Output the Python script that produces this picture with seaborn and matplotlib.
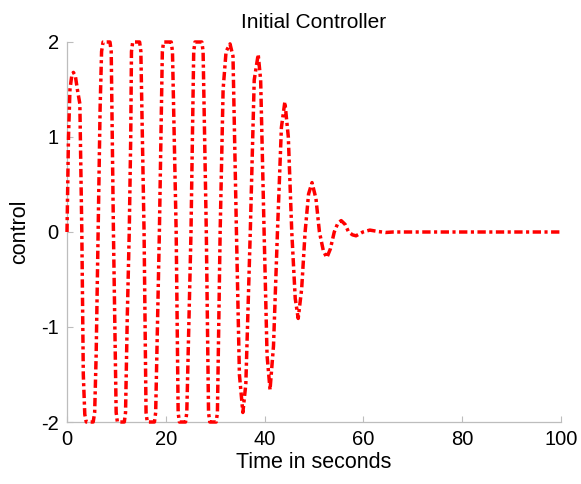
import matplotlib
matplotlib.use("Agg")
import matplotlib.pyplot as plt
import seaborn as sns
import pandas as pd

# Time (s) and control value
time_s = [0, 0.3, 0.6, 1.0, 1.3, 1.7, 2.1, 2.6, 3.0, 3.3, 3.6, 3.9,
          5.3, 5.6, 5.9, 6.3, 6.7, 7.0, 7.3,
          8.7, 8.95, 9.4, 9.95, 10.2,
          11.6, 11.85, 12.2, 12.6, 12.9, 13.05, 13.3,
          14.7, 14.95, 15.6, 16.0, 16.25,
          17.7, 17.95, 18.7, 19.3, 19.55,
          21.1, 21.35, 22.1, 22.5, 22.75,
          24.0, 24.25, 25.1, 25.65, 25.9,
          27.3, 27.55, 28.2, 28.65, 28.9,
          30.2, 30.45, 31.0, 31.6, 32.2, 33.0, 33.6, 34.3, 34.9,
          35.6, 36.2, 37.1, 37.9, 38.7, 39.2, 39.9, 40.5, 41.1, 41.8,
          42.6, 43.4, 44.1, 44.8, 45.5, 46.2, 46.8, 47.5, 48.2, 48.9,
          49.6, 50.4, 51.1, 51.9, 52.6, 53.3, 54.1, 54.8, 55.5, 56.3,
          57.0, 57.8, 58.5, 59.2, 59.9, 61.3, 63.0, 64.5, 66.0, 100.0]
control = [0, 1.0, 1.5, 1.66, 1.68, 1.64, 1.5, 1.35, 0.0, -1.5, -1.92, -2.0,
           -2.0, -1.9, -1.3, 0.0, 1.3, 1.9, 2.0,
           2.0, 1.9, 0.0, -1.9, -2.0,
           -2.0, -1.9, -0.9, 0.0, 1.0, 1.9, 2.0,
           2.0, 1.9, 0.0, -1.9, -2.0,
           -2.0, -1.9, 0.0, 1.9, 2.0,
           2.0, 1.9, 0.0, -1.9, -2.0,
           -2.0, -1.9, 0.0, 1.9, 2.0,
           2.0, 1.9, 0.0, -1.9, -2.0,
           -2.0, -1.9, 0.0, 1.5, 1.9, 1.98, 1.85, 0.0, -1.5,
           -1.9, -1.6, 0.0, 1.6, 1.87, 1.6, 0.0, -1.3, -1.66, -1.2,
           0.0, 1.1, 1.37, 1.0, 0.0, -0.7, -0.91, -0.6, 0.0, 0.4,
           0.52, 0.35, 0.0, -0.2, -0.27, -0.18, 0.0, 0.09, 0.12, 0.08,
           0.0, -0.03, -0.04, -0.02, 0.0, 0.02, 0.005, -0.005, 0.0, 0.0]

x_ticks = [0, 20, 40, 60, 80, 100]
y_ticks = [-2, -1, 0, 1, 2]

df = pd.DataFrame({"t": time_s, "u": control})

sns.set_style("ticks")
plt.rcParams["font.family"] = ["Liberation Sans", "DejaVu Sans"]
plt.rcParams["text.color"] = "black"
plt.rcParams["axes.labelcolor"] = "black"

fig = plt.figure(figsize=(5.81, 4.84), dpi=100)
ax = fig.add_axes([67 / 581, 1 - 422 / 484, (561 - 67) / 581, (422 - 42) / 484])

sns.lineplot(data=df, x="t", y="u", ax=ax, color="#ff0000", linewidth=2.5,
             sort=False, estimator=None)
line = ax.lines[0]
line.set_linestyle((0, (2.4, 1.0, 0.9, 1.0)))
line.set_clip_on(False)

ax.set_xlim(0, 100)
ax.set_ylim(-2, 2)
ax.set_xticks(x_ticks)
ax.set_yticks(y_ticks)
ax.set_xticklabels([str(v) for v in x_ticks])
ax.set_yticklabels([str(v) for v in y_ticks])

sns.despine(ax=ax)
for side in ("left", "bottom"):
    ax.spines[side].set_color("#bdbdbd")
    ax.spines[side].set_linewidth(0.9)
    ax.spines[side].set_zorder(0)
ax.tick_params(direction="in", length=4, width=0.8, color="#bdbdbd",
               labelsize=14.5, labelcolor="black", pad=6)

ax.set_title("Initial Controller", fontsize=15, pad=10, color="black")
ax.set_xlabel("Time in seconds", fontsize=15.5, labelpad=2, color="black")
ax.set_ylabel("control", fontsize=15.5, labelpad=8, color="black")

fig.savefig("out.png", dpi=100)
